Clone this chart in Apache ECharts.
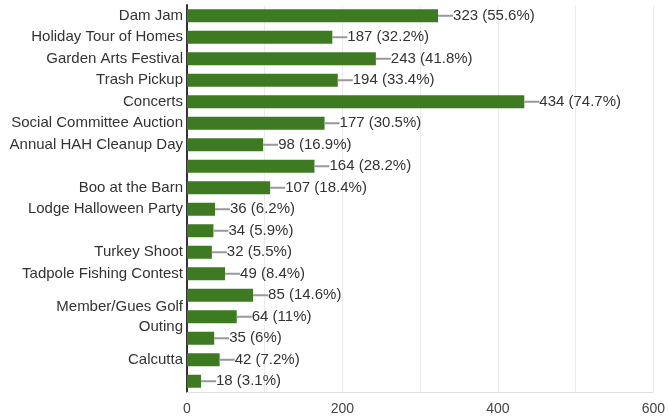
<!DOCTYPE html>
<html><head><meta charset="utf-8">
<script src="https://cdn.jsdelivr.net/npm/echarts@6/dist/echarts.min.js"></script>
<style>html,body{margin:0;padding:0;background:#fff}#c{width:668px;height:419px}</style>
</head><body><div id="c"></div>
<script>
const categories = ["Dam Jam","Holiday Tour of Homes","Garden Arts Festival","Trash Pickup","Concerts","Social Committee Auction","Annual HAH Cleanup Day","","Boo at the Barn","Lodge Halloween Party","","Turkey Shoot","Tadpole Fishing Contest","","Member/Gues Golf\nOuting","","Calcutta",""];
const counts = [323,187,243,194,434,177,98,164,107,36,34,32,49,85,64,35,42,18];
const percents = ["55.6%","32.2%","41.8%","33.4%","74.7%","30.5%","16.9%","28.2%","18.4%","6.2%","5.9%","5.5%","8.4%","14.6%","11%","6%","7.2%","3.1%"];
const xTicks = [0,200,400,600];

const chart = echarts.init(document.getElementById('c'));
chart.setOption({
  animation:false,
  grid:{left:187,right:14,top:5,bottom:27,containLabel:false},
  xAxis:{type:'value',min:0,max:600,interval:100,
    axisLine:{show:true,lineStyle:{color:'#e0e0e0',width:1}},
    axisTick:{show:false},
    splitLine:{show:true,lineStyle:{color:'#ebebeb',width:1}},
    axisLabel:{margin:10,color:'#444',fontSize:14,fontFamily:'Liberation Sans, Arial, sans-serif',
      formatter:v=>xTicks.indexOf(v)>=0?String(v):''}},
  yAxis:{type:'category',inverse:true,data:categories,
    axisLine:{show:true,lineStyle:{color:'#333',width:2}},
    axisTick:{show:false},
    axisLabel:{margin:4,color:'#333',fontSize:15,lineHeight:20,interval:0,fontFamily:'Liberation Sans, Arial, sans-serif'}},
  series:[{type:'bar',data:counts,barWidth:13,itemStyle:{color:'#3d7a22'},
    label:{show:true,position:'right',distance:0,
      formatter:p=>'{ln|}{t|'+counts[p.dataIndex]+' ('+percents[p.dataIndex]+')}',
      rich:{ln:{width:15,height:2,backgroundColor:'#999'},
            t:{color:'#333',fontSize:15,fontFamily:'Liberation Sans, Arial, sans-serif'}}}}]
});
</script></body></html>
